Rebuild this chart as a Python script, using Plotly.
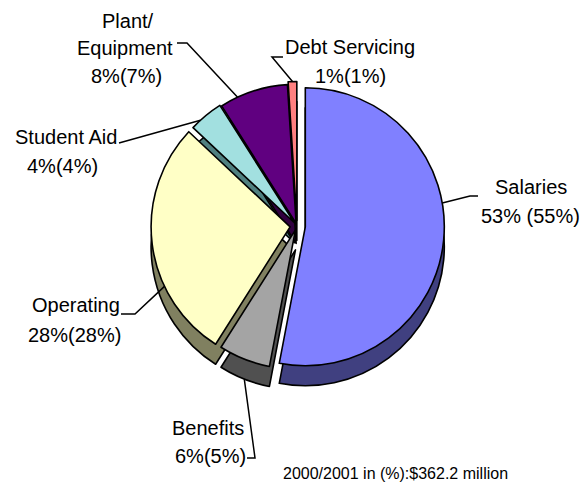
import math
import plotly.graph_objects as go

# Budget shares, 2000/2001 (current) and previous year in brackets
categories = ["Salaries", "Benefits", "Operating", "Student Aid", "Plant/ Equipment", "Debt Servicing"]
share_current = [53, 6, 28, 4, 8, 1]
share_previous = [55, 5, 28, 4, 7, 1]

top_colors = ["#8080FF", "#A4A4A4", "#FFFFC6", "#A2E0E0", "#600080", "#FF8080"]
side_colors = ["#404080", "#505050", "#808060", "#508080", "#300040", "#804040"]
pulls = [0.06, 0.03, 0.05, 0.03, 0.02, 0.04]

W, H = 581, 485
FONT = "Liberation Sans, Arial, sans-serif"

# pie geometry (pixels)
cx, cy = 297, 226
R = 139
depth = 20
half = R * (1 + max(pulls))

dom_x = [(cx - half) / W, (cx + half) / W]
dom_top = [(H - cy - half) / H, (H - cy + half) / H]
dom_side = [dom_top[0] - depth / H, dom_top[1] - depth / H]


def px(x, y):
    return x / W, 1 - y / H


total = sum(share_current)


def rim_point(i, frac=0.5, down=0.0):
    start = sum(share_current[:i]) / total * 360
    span = share_current[i] / total * 360
    th = math.radians(start + frac * span)
    bis = math.radians(start + span / 2)
    x = cx + pulls[i] * R * math.sin(bis) + R * math.sin(th)
    y = cy - pulls[i] * R * math.cos(bis) - R * math.cos(th) + down
    return x, y


fig = go.Figure()
common = dict(
    labels=categories,
    values=share_current,
    sort=False,
    direction="clockwise",
    rotation=0,
    pull=pulls,
    textinfo="none",
    hoverinfo="skip",
    showlegend=False,
)
# side wall layer, shifted down
fig.add_trace(go.Pie(
    domain=dict(x=dom_x, y=dom_side),
    marker=dict(colors=side_colors, line=dict(color="black", width=1.6)),
    **common,
))
# top surface
fig.add_trace(go.Pie(
    domain=dict(x=dom_x, y=dom_top),
    marker=dict(colors=top_colors, line=dict(color="black", width=1.6)),
    **common,
))

# label lines: (text lines with center x / y in px), leader elbow points, rim fraction
label_layout = {
    "Salaries": dict(lines=[(531, 187)], pct=(530, 216), sep=" ",
                     elbow=[(478, 196), (470, 196)], frac=0.42, down=0),
    "Benefits": dict(lines=[(208, 428)], pct=(210, 456), sep="",
                     elbow=[(247, 458), (255, 458)], frac=0.5, down=depth),
    "Operating": dict(lines=[(76, 305)], pct=(74, 335), sep="",
                      elbow=[(121, 314), (135, 314)], frac=0.32, down=0),
    "Student Aid": dict(lines=[(66, 137)], pct=(62, 166), sep="",
                        elbow=[(119, 143)], frac=0.3, down=0),
    "Plant/ Equipment": dict(lines=[(128, 21), (125, 48)], pct=(126, 76), sep="",
                             elbow=[(177, 43), (187, 43)], frac=0.26, down=0),
    "Debt Servicing": dict(lines=[(350, 47)], pct=(350, 76), sep="",
                           elbow=[(283, 57), (272, 57)], frac=0.5, down=0),
}

annotations = []
shapes = []
for i, name in enumerate(categories):
    spec = label_layout[name]
    words = name.split(" ") if len(spec["lines"]) > 1 else [name]
    for word, (lx, ly) in zip(words, spec["lines"]):
        x, y = px(lx, ly)
        annotations.append(dict(x=x, y=y, xref="paper", yref="paper", text=word,
                                showarrow=False, xanchor="center", yanchor="middle",
                                font=dict(family=FONT, size=20, color="black")))
    lx, ly = spec["pct"]
    x, y = px(lx, ly)
    annotations.append(dict(
        x=x, y=y, xref="paper", yref="paper",
        text=f"{share_current[i]}%{spec['sep']}({share_previous[i]}%)",
        showarrow=False, xanchor="center", yanchor="middle",
        font=dict(family=FONT, size=20, color="black")))
    pts = spec["elbow"] + [rim_point(i, spec["frac"], spec["down"])]
    path = ""
    for k, (ex, ey) in enumerate(pts):
        qx, qy = px(ex, ey)
        path += ("M" if k == 0 else " L") + f"{qx:.5f},{qy:.5f}"
    shapes.append(dict(type="path", path=path, xref="paper", yref="paper",
                       line=dict(color="black", width=1.5)))

cx_cap, cy_cap = px(395, 473)
annotations.append(dict(x=cx_cap, y=cy_cap, xref="paper", yref="paper",
                        text="2000/2001 in (%):$362.2 million", showarrow=False,
                        xanchor="center", yanchor="middle",
                        font=dict(family=FONT, size=16, color="black")))

fig.update_layout(
    width=W, height=H, autosize=False,
    margin=dict(l=0, r=0, t=0, b=0),
    paper_bgcolor="white", plot_bgcolor="white",
    annotations=annotations, shapes=shapes,
)

fig.write_html("out.html")
